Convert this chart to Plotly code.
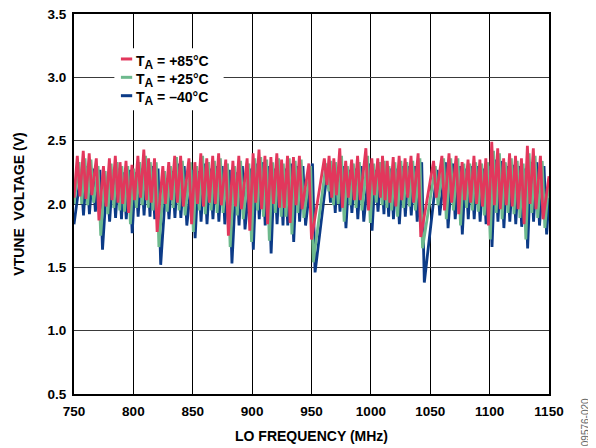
import plotly.graph_objects as go

# Band-switch (trough) frequencies in MHz; each ramp runs from one trough to just before the next
trough_freq = [750, 755, 760, 765, 771, 777, 782, 787, 791, 796, 801, 806, 811, 815, 820,
               827, 832, 837, 842, 849, 854, 859, 864, 869, 874, 880, 886, 891, 898, 903,
               908, 913, 918, 923, 927, 932, 937, 942, 950, 963, 967, 971, 976, 981, 986,
               991, 998, 1003, 1008, 1012, 1016, 1021, 1026, 1031, 1036, 1042, 1055, 1062,
               1068, 1074, 1079, 1084, 1089, 1094, 1099, 1104, 1109, 1114, 1119, 1124, 1129,
               1134, 1139, 1145]
end_freq = 1150
# frequency lag of the band edges for each temperature (MHz)
red_lag, green_lag, blue_lag = 0.0, 1.5, 3.0

# Trough (start of ramp) values, V
red_trough = [2.05, 2.06, 2.04, 2.07, 1.87, 1.98, 2.03, 2.01, 2.00, 1.93, 2.03, 2.05, 2.03, 2.01, 1.78,
              2.00, 2.03, 2.01, 1.98, 1.84, 2.00, 1.98, 2.01, 2.00, 1.99, 1.75, 1.98, 1.96, 1.79, 2.01,
              1.96, 1.84, 2.00, 1.97, 1.97, 1.85, 1.99, 1.96, 1.72, 2.15, 2.05, 2.07, 1.97, 2.05, 2.03,
              2.03, 1.95, 2.07, 2.05, 2.03, 2.01, 1.98, 2.03, 2.05, 2.01, 1.74, 2.05, 1.95,
              2.01, 1.92, 2.03, 2.01, 2.00, 1.98, 1.83, 1.99, 1.96, 1.99, 1.98, 1.96, 1.84,
              2.00, 1.96, 1.88]
green_trough = [2.00, 2.00, 1.99, 2.01, 1.75, 1.92, 1.97, 1.95, 1.94, 1.84, 1.97, 1.99, 1.97, 1.95, 1.66,
                1.94, 1.97, 1.95, 1.91, 1.78, 1.95, 1.92, 1.95, 1.93, 1.93, 1.66, 1.91, 1.88, 1.70, 1.95,
                1.90, 1.71, 1.93, 1.90, 1.90, 1.76, 1.93, 1.89, 1.54, 2.10, 1.99, 2.00, 1.86, 1.99, 1.97,
                1.95, 1.85, 2.01, 1.99, 1.97, 1.95, 1.90, 1.97, 1.98, 1.95, 1.65, 1.99, 1.88,
                1.95, 1.83, 1.97, 1.95, 1.94, 1.91, 1.72, 1.93, 1.88, 1.93, 1.92, 1.89, 1.72,
                1.93, 1.89, 1.81]
blue_trough = [1.84, 1.91, 1.92, 1.94, 1.64, 1.86, 1.89, 1.88, 1.88, 1.77, 1.90, 1.91, 1.90, 1.88, 1.52,
               1.88, 1.89, 1.89, 1.83, 1.73, 1.86, 1.84, 1.88, 1.86, 1.84, 1.53, 1.83, 1.80, 1.64, 1.88,
               1.83, 1.61, 1.84, 1.83, 1.83, 1.70, 1.86, 1.83, 1.46, 2.01, 1.93, 1.94, 1.81, 1.93, 1.88,
               1.86, 1.79, 1.94, 1.92, 1.90, 1.88, 1.84, 1.90, 1.91, 1.86, 1.38, 1.91, 1.81,
               1.88, 1.76, 1.88, 1.88, 1.86, 1.84, 1.66, 1.86, 1.81, 1.86, 1.84, 1.82, 1.65,
               1.86, 1.83, 1.76]

# Peak (end of ramp, just before the drop) values, V
red_peak = [2.38, 2.42, 2.40, 2.36, 2.30, 2.36, 2.38, 2.33, 2.34, 2.31, 2.38, 2.43, 2.36, 2.36, 2.30,
            2.33, 2.38, 2.38, 2.36, 2.33, 2.40, 2.36, 2.38, 2.40, 2.35, 2.34, 2.38, 2.36, 2.40, 2.43,
            2.38, 2.37, 2.40, 2.35, 2.38, 2.37, 2.38, 2.32, 2.36, 2.38, 2.36, 2.44, 2.34, 2.35, 2.38,
            2.44, 2.36, 2.36, 2.38, 2.34, 2.37, 2.38, 2.36, 2.38, 2.40, 2.34, 2.38, 2.40,
            2.38, 2.33, 2.35, 2.38, 2.35, 2.36, 2.49, 2.44, 2.36, 2.40, 2.38, 2.36, 2.46,
            2.44, 2.38, 2.22]
green_peak = [2.33, 2.36, 2.35, 2.30, 2.26, 2.32, 2.33, 2.30, 2.30, 2.28, 2.33, 2.38, 2.33, 2.33, 2.26,
              2.30, 2.37, 2.34, 2.33, 2.30, 2.38, 2.33, 2.34, 2.36, 2.32, 2.30, 2.34, 2.32, 2.36, 2.37,
              2.35, 2.33, 2.36, 2.32, 2.36, 2.34, 2.35, 2.30, 2.32, 2.34, 2.33, 2.38, 2.30, 2.32, 2.33,
              2.38, 2.32, 2.33, 2.34, 2.30, 2.33, 2.34, 2.33, 2.34, 2.36, 2.30, 2.36, 2.36,
              2.36, 2.32, 2.32, 2.33, 2.32, 2.33, 2.42, 2.40, 2.33, 2.36, 2.34, 2.32, 2.40,
              2.38, 2.34, 2.20]
blue_peak = [2.25, 2.30, 2.28, 2.27, 2.20, 2.27, 2.28, 2.25, 2.27, 2.25, 2.28, 2.33, 2.30, 2.28, 2.20,
             2.26, 2.32, 2.30, 2.27, 2.26, 2.32, 2.28, 2.30, 2.30, 2.27, 2.25, 2.30, 2.28, 2.32, 2.33,
             2.30, 2.28, 2.32, 2.28, 2.32, 2.30, 2.30, 2.32, 2.30, 2.30, 2.28, 2.30, 2.27, 2.28, 2.30,
             2.32, 2.27, 2.30, 2.30, 2.28, 2.28, 2.30, 2.30, 2.30, 2.33, 2.27, 2.33, 2.32,
             2.30, 2.28, 2.30, 2.30, 2.28, 2.30, 2.35, 2.34, 2.30, 2.31, 2.30, 2.28, 2.33,
             2.33, 2.30, 2.05]

x_ticks = [750, 800, 850, 900, 950, 1000, 1050, 1100, 1150]
y_ticks = [0.5, 1.0, 1.5, 2.0, 2.5, 3.0, 3.5]
legend_labels = ["T<sub><span style='font-size:12px'>A</span></sub> = +85°C",
                 "T<sub><span style='font-size:12px'>A</span></sub> = +25°C",
                 "T<sub><span style='font-size:12px'>A</span></sub> = –40°C"]
legend_rows = [3.145, 3.0, 2.855]   # legend row heights (V)
colors = ["#E2375C", "#6DB98D", "#0C3B87"]

DROP = 2.2  # MHz width of each band-switch drop


def build(troughs, peaks, lag):
    xs, ys = [], []
    nxt = trough_freq[1:] + [end_freq]
    last = len(trough_freq) - 1
    for i, t in enumerate(trough_freq):
        xs.append(min(t + lag, end_freq) if i > 0 else t)
        ys.append(troughs[i])
        xs.append(min(nxt[i] - DROP + lag, end_freq) if i < last else end_freq)
        ys.append(peaks[i])
    return xs, ys


fig = go.Figure()
for tr, pk, lag, idx in [(blue_trough, blue_peak, blue_lag, 2),
                         (green_trough, green_peak, green_lag, 1),
                         (red_trough, red_peak, red_lag, 0)]:
    xs, ys = build(tr, pk, lag)
    fig.add_trace(go.Scatter(x=xs, y=ys, mode="lines", name=legend_labels[idx],
                             showlegend=False, line=dict(color=colors[idx], width=2.8)))

FONT = "Arial, Liberation Sans, sans-serif"

# legend drawn in-plot: white panel, short colour keys and labels
fig.add_shape(type="rect", xref="x", yref="y", x0=784, x1=876, y0=2.74, y1=3.23,
              fillcolor="white", line=dict(width=0), layer="above")
for i in range(3):
    fig.add_shape(type="line", xref="x", yref="y", x0=789.5, x1=799, y0=legend_rows[i],
                  y1=legend_rows[i], line=dict(color=colors[i], width=3), layer="above")
    fig.add_annotation(text=legend_labels[i], xref="x", yref="y", x=800.5, y=legend_rows[i] - 0.025,
                       xanchor="left", yanchor="middle", showarrow=False,
                       font=dict(size=14, family=FONT, color="black", weight="bold"))

W, H = 588, 440
fig.update_layout(
    width=W, height=H,
    margin=dict(l=66, r=47, t=6, b=54, autoexpand=False),
    paper_bgcolor="white", plot_bgcolor="white",
    font=dict(family=FONT, size=13.5, color="black"),
    showlegend=False,
    xaxis=dict(range=[750, 1150], tickvals=x_ticks, automargin=False,
               tickfont=dict(size=13.5, weight="bold"), ticklabeloverflow="allow",
               showgrid=True, gridcolor="black", gridwidth=1,
               showline=True, linecolor="black", linewidth=2, mirror=True, ticks="",
               ticklabelstandoff=4, zeroline=False,
               title=dict(text="LO FREQUENCY (MHz)", font=dict(size=14, weight="bold"), standoff=13)),
    yaxis=dict(range=[0.5, 3.5], tickvals=y_ticks, tickformat=".1f", automargin=False,
               tickfont=dict(size=13.5, weight="bold"), ticklabeloverflow="allow",
               showgrid=True, gridcolor="#3a3a3a", gridwidth=1,
               showline=True, linecolor="black", linewidth=2, mirror=True, ticks="",
               ticklabelstandoff=3, zeroline=False,
               title=dict(text="VTUNE  VOLTAGE (V)", font=dict(size=14, weight="bold"), standoff=20)),
)

fig.add_annotation(text="09576-020", xref="paper", yref="paper", x=1.076, y=-0.074,
                   xanchor="center", yanchor="middle", textangle=-90, showarrow=False,
                   font=dict(size=10, color="#666666", family=FONT))

fig.write_html("out.html")
